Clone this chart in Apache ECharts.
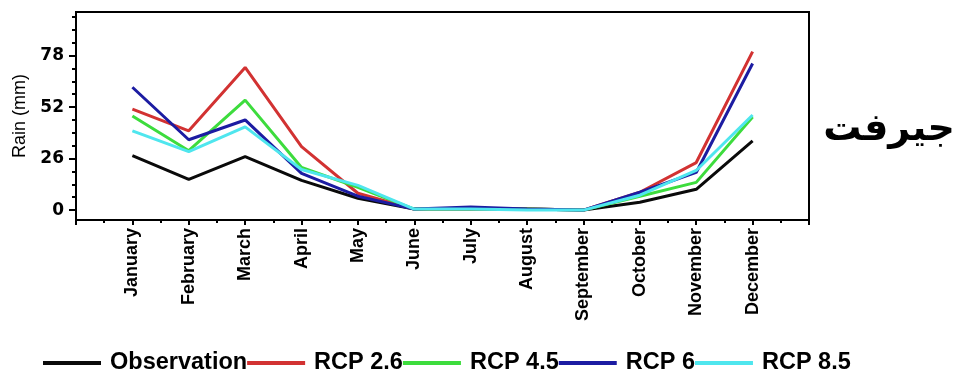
<!DOCTYPE html>
<html>
<head>
<meta charset="utf-8">
<script src="https://cdn.jsdelivr.net/npm/echarts@6/dist/echarts.min.js"></script>
<style>
  html, body { margin: 0; padding: 0; background: #fff; }
  #chart { width: 960px; height: 374px; }
</style>
</head>
<body>
<div id="chart"></div>
<script>
const months = ['January', 'February', 'March', 'April', 'May', 'June', 'July',
  'August', 'September', 'October', 'November', 'December'];
const yTicks = [0, 26, 52, 78];
const yMinorTicks = [6.5, 13, 19.5, 32.5, 39, 45.5, 58.5, 65, 71.5, 84.5, 91, 97.5];

const observation = [27.5, 15.5, 27, 15, 6, 0.5, 0.5, 0.5, 0, 4, 10.5, 35];
const rcp26 = [51, 40, 72, 32, 8.5, 0.5, 0.5, 0.5, 0, 9, 24, 80];
const rcp45 = [47.5, 30, 55.5, 21.5, 11.5, 0.5, 0.5, 0.5, 0, 7, 14, 47];
const rcp6 = [62, 35.5, 45.5, 18.5, 7, 0.5, 1.5, 0.5, 0, 9, 19, 74];
const rcp85 = [40, 29.5, 42, 20.5, 12.5, 0.5, 0.5, 0, 0, 7.5, 20, 48];

const seriesDefs = [
  { name: 'Observation', data: observation, color: '#0a0a0a' },
  { name: 'RCP 2.6', data: rcp26, color: '#d23232' },
  { name: 'RCP 4.5', data: rcp45, color: '#3ddc3d' },
  { name: 'RCP 6', data: rcp6, color: '#1c1ca2' },
  { name: 'RCP 8.5', data: rcp85, color: '#4fe6ee' },
];

const chart = echarts.init(document.getElementById('chart'));

chart.setOption({
  animation: false,
  grid: {
    left: 76,
    right: 151,
    top: 12,
    bottom: 154,
    show: true,
    borderColor: '#000',
    borderWidth: 2,
  },
  legend: {
    left: 38,
    top: 344,
    icon: 'rect',
    itemWidth: 58,
    itemHeight: 4,
    itemGap: 0,
    textStyle: {
      fontFamily: "'Liberation Sans', Arial, sans-serif",
      fontWeight: 'bold',
      fontSize: 23.5,
      lineHeight: 28,
      color: '#000',
      padding: [0, 0, 0, 4],
    },
    data: seriesDefs.map((s) => s.name),
  },
  xAxis: {
    type: 'value',
    min: 0,
    max: 13,
    interval: 1,
    axisLine: { show: true, onZero: false, lineStyle: { color: '#000', width: 2 } },
    axisTick: { show: true, length: 5, lineStyle: { color: '#000', width: 2 } },
    minorTick: { show: true, splitNumber: 2, length: 3, lineStyle: { color: '#000', width: 2 } },
    splitLine: { show: false },
    minorSplitLine: { show: false },
    axisLabel: {
      rotate: 90,
      margin: 8,
      fontFamily: "'Liberation Sans', Arial, sans-serif",
      fontWeight: 'bold',
      fontSize: 18,
      color: '#000',
      formatter: (v) => months[v - 1] || '',
    },
  },
  yAxis: [
    {
      type: 'value',
      min: -5,
      max: 100,
      name: 'Rain (mm)',
      nameLocation: 'middle',
      nameGap: 47,
      nameRotate: 90,
      nameTextStyle: {
        fontFamily: "'Liberation Sans', Arial, sans-serif",
        fontSize: 18,
        color: '#000',
      },
      axisLine: { show: true, onZero: false, lineStyle: { color: '#000', width: 2 } },
      axisTick: { show: true, length: 7, customValues: yTicks, lineStyle: { color: '#000', width: 2 } },
      splitLine: { show: false },
      axisLabel: {
        customValues: yTicks,
        margin: 12,
        fontFamily: "'DejaVu Sans', sans-serif",
        fontWeight: 'bold',
        fontSize: 17,
        color: '#000',
      },
    },
    {
      type: 'value',
      min: -5,
      max: 100,
      position: 'left',
      axisLine: { show: false },
      axisTick: { show: true, length: 4, customValues: yMinorTicks, lineStyle: { color: '#000', width: 2 } },
      axisLabel: { show: false },
      splitLine: { show: false },
    },
  ],
  graphic: [
    {
      type: 'text',
      x: 889,
      y: 130,
      style: {
        text: 'جیرفت',
        font: "bold 38px 'DejaVu Sans', sans-serif",
        fill: '#000',
        textAlign: 'center',
        textVerticalAlign: 'middle',
      },
    },
  ],
  series: seriesDefs.map((s) => ({
    name: s.name,
    type: 'line',
    symbol: 'none',
    yAxisIndex: 0,
    data: s.data.map((v, i) => [i + 1, v]),
    lineStyle: { color: s.color, width: 3 },
    itemStyle: { color: s.color },
  })),
});
</script>
</body>
</html>
